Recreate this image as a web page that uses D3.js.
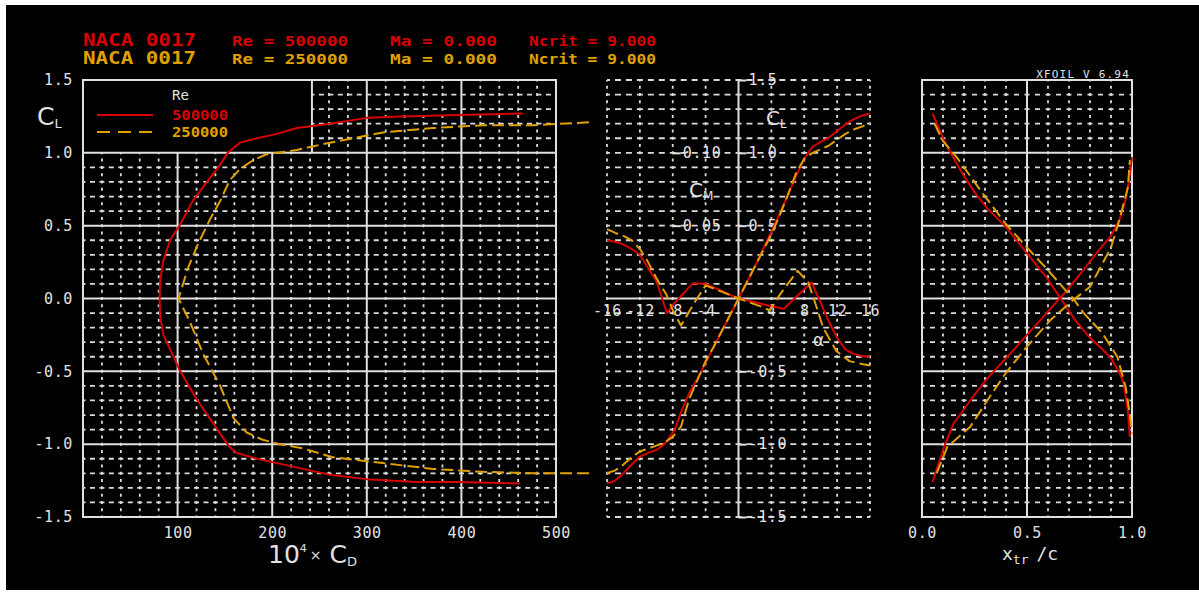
<!DOCTYPE html>
<html>
<head>
<meta charset="utf-8">
<script src="https://cdn.jsdelivr.net/npm/d3@7"></script>
<style>
  html, body { margin: 0; padding: 0; background: #fff; }
  svg { display: block; }
</style>
</head>
<body>
<div id="chart"></div>
<script>
// ---- values ----
const titleRows = [
  ['NACA 0017', 'Re = 500000', 'Ma = 0.000', 'Ncrit = 9.000'],
  ['NACA 0017', 'Re = 250000', 'Ma = 0.000', 'Ncrit = 9.000']
];
const reLabels = ['500000', '250000'];
const clTicks = [-1.5, -1.0, -0.5, 0, 0.5, 1.0, 1.5];
const cdTicks = [100, 200, 300, 400, 500];
const alphaTicks = [-16, -12, -8, -4, 4, 8, 12, 16];
const clAlphaTicks = [-1.5, -1.0, -0.5, 0.5, 1.0, 1.5];
const cmTicks = [0.05, 0.10];
const xtrTicks = [0, 0.5, 1];

// drag polar [1e4 * CD, CL]
const polar500 = [[462,-1.27],[398,-1.26],[353,-1.26],[300,-1.24],[261,-1.21],[240,-1.18],[205,-1.13],
  [184,-1.10],[162,-1.06],[155,-1.02],[141,-0.89],[120,-0.69],[102,-0.49],[85,-0.25],[81.5,-0.12],[81,0],
  [81.5,0.12],[85,0.26],[92,0.40],[102,0.50],[116,0.67],[131,0.80],[143,0.90],[153,1.00],[166,1.07],[184,1.10],
  [205,1.13],[226,1.17],[261,1.20],[300,1.24],[335,1.25],[398,1.26],[465,1.27]];
const polar250 = [[535,-1.20],[476,-1.20],[423,-1.19],[370,-1.17],[317,-1.13],[264,-1.09],[233,-1.03],
  [208,-1.00],[190,-0.97],[173,-0.92],[159,-0.82],[145,-0.60],[127,-0.38],[113,-0.16],[101,0],
  [111,0.21],[122,0.38],[134,0.54],[145,0.67],[155,0.81],[166,0.89],[180,0.95],[194,0.99],[205,1.00],
  [226,1.02],[254,1.06],[317,1.14],[370,1.17],[423,1.19],[476,1.19],[535,1.21]];

// [alpha, CL]
const clAlpha500 = [[-16,-1.27],[-15,-1.25],[-14,-1.20],[-13,-1.14],[-12,-1.085],[-11,-1.06],[-10,-1.04],
  [-9,-1.00],[-8,-0.92],[-7.6,-0.88],[-7,-0.78],[-6,-0.65],[-5,-0.55],[-4,-0.44],[-3,-0.33],[-2,-0.22],
  [-1,-0.11],[0,0],[1,0.11],[2,0.22],[3,0.34],[4,0.46],[5,0.58],[6,0.71],[7,0.84],[8,0.96],[9,1.04],
  [10,1.075],[11,1.105],[12,1.15],[13,1.195],[14,1.23],[15,1.255],[16,1.27]];
const clAlpha250 = [[-16,-1.20],[-15,-1.18],[-14,-1.14],[-13,-1.09],[-12,-1.05],[-11,-1.03],[-10,-1.01],
  [-9,-0.99],[-8,-0.95],[-7,-0.88],[-6,-0.69],[-5,-0.56],[-4,-0.43],[-3,-0.33],[-2,-0.22],[-1,-0.11],
  [0,0],[1,0.11],[2,0.22],[3,0.33],[4,0.44],[5,0.57],[6,0.71],[7,0.86],[8,0.96],[9,1.00],[10,1.025],
  [11,1.05],[12,1.09],[13,1.13],[14,1.16],[15,1.18],[16,1.20]];

// [alpha, CM]
const cmAlpha500 = [[-16,0.040],[-15,0.039],[-14,0.037],[-13,0.034],[-12,0.030],[-11,0.021],[-10,0.012],
  [-9,-0.005],[-8.7,-0.010],[-8,-0.0045],[-7,0.0017],[-6,0.0078],[-5.5,0.0105],[-4,0.0101],[-3,0.0076],
  [-2,0.005],[-1,0.0025],[0,0],[1,-0.0013],[2,-0.0026],[3,-0.004],[4,-0.0053],[5.5,-0.0071],[6,-0.0044],
  [7,0.001],[8,0.0064],[8.9,0.011],[10,-0.003],[11,-0.016],[12,-0.027],[13,-0.035],[14,-0.038],
  [15,-0.0395],[16,-0.040]];
const cmAlpha250 = [[-16,0.0476],[-15,0.045],[-14,0.043],[-13,0.040],[-12,0.034],[-11,0.025],[-10,0.014],
  [-8.8,0.003],[-8,-0.008],[-7,-0.0186],[-6,-0.009],[-5.2,-0.0014],[-4,0.009],[-3,0.0068],[-2,0.0045],
  [-1,0.0023],[0,0],[1,-0.002],[2,-0.004],[3,-0.006],[3.8,-0.0083],[5.1,0.0032],[6,0.010],[7.2,0.019],
  [8.5,0.011],[9.5,-0.006],[10.3,-0.020],[11.9,-0.036],[13.5,-0.043],[15,-0.045],[16,-0.046]];

// transition location [xtr/c, CL]
const xtrTop500 = [[0.05,1.27],[0.08,1.17],[0.10,1.10],[0.14,0.99],[0.20,0.84],[0.25,0.73],[0.31,0.62],
  [0.40,0.49],[0.50,0.31],[0.59,0.15],[0.66,0],[0.73,-0.15],[0.80,-0.27],[0.86,-0.35],[0.90,-0.41],
  [0.94,-0.51],[0.96,-0.58],[0.98,-0.77],[0.99,-0.95]];
const xtrBot500 = [[0.05,-1.26],[0.08,-1.13],[0.11,-1.00],[0.15,-0.86],[0.23,-0.70],[0.31,-0.55],
  [0.40,-0.41],[0.50,-0.25],[0.60,-0.09],[0.655,0],[0.69,0.055],[0.76,0.18],[0.83,0.31],[0.90,0.43],
  [0.94,0.54],[0.97,0.68],[0.99,0.85],[1.0,0.97]];
const xtrTop250 = [[0.06,1.20],[0.10,1.08],[0.165,0.97],[0.29,0.72],[0.40,0.51],[0.50,0.35],[0.59,0.21],
  [0.70,0.03],[0.72,0],[0.77,-0.10],[0.86,-0.24],[0.93,-0.40],[0.97,-0.61],[0.99,-0.80],[1.0,-0.93]];
const xtrBot250 = [[0.07,-1.20],[0.12,-1.02],[0.23,-0.88],[0.32,-0.68],[0.40,-0.51],[0.50,-0.33],
  [0.61,-0.15],[0.72,-0.01],[0.80,0.08],[0.90,0.35],[0.94,0.54],[0.98,0.76],[0.99,0.95]];

// ---- layout ----
const width = 1199, height = 592;
const plotTop = 80, plotBottom = 517;
const gridCol = '#dadada', solidCol = '#e0e0e0', labelCol = '#e2e2e2';
const red = '#d80000', orange = '#e0a000';
const mono = '"DejaVu Sans Mono", monospace';
const sans = '"DejaVu Sans", sans-serif';

const svg = d3.select('#chart').append('svg')
    .attr('width', width)
    .attr('height', height);

svg.append('rect').attr('x', 6).attr('y', 5).attr('width', width - 6).attr('height', 585).attr('fill', '#000');

// scales
const xCd = d3.scaleLinear().domain([0, 500]).range([83, 556]);
const yCl = d3.scaleLinear().domain([-1.5, 1.5]).range([plotBottom, plotTop]);
const xAl = d3.scaleLinear().domain([-16, 16]).range([607, 870]);
const yCm = d3.scaleLinear().domain([-0.15, 0.15]).range([plotBottom, plotTop]);
const xTr = d3.scaleLinear().domain([0, 1]).range([922, 1132]);

const grid = svg.append('g');

function gridLine(x1, y1, x2, y2, dash) {
    const l = grid.append('line').attr('x1', x1).attr('y1', y1).attr('x2', x2).attr('y2', y2);
    if (dash) {
        l.attr('stroke', gridCol).attr('stroke-width', 1.8)
            .attr('stroke-dasharray', `${dash[0]} ${dash[1] - dash[0]}`)
            .attr('stroke-dashoffset', dash[0] / 2);
    } else {
        l.attr('stroke', solidCol).attr('stroke-width', 2);
    }
}
const hLine = (y, x0, x1, dash) => gridLine(x0, y, x1, y, dash);
const vLine = (x, y0, y1, dash) => gridLine(x, y0, x, y1, dash);

const clSteps = d3.range(-14, 15).map(d => d / 10);
const isMajorCl = c => Math.abs(Math.round(c * 10) % 5) === 0;
const rowPeriod = (yCl(0) - yCl(0.1)) / 2;

// panel 1 grid, with legend box in the top left corner
const legendCd = 242;
d3.range(20, 500, 20).forEach(cd => {
    const yStart = cd < legendCd ? yCl(1.0) : plotTop;
    if (cd % 100 === 0) vLine(xCd(cd), yStart, plotBottom);
    else vLine(xCd(cd), yStart, plotBottom, [3, rowPeriod]);
});
clSteps.forEach(c => {
    const xStart = c > 1.0 ? xCd(legendCd) : xCd(0);
    if (isMajorCl(c)) hLine(yCl(c), xCd(0), xCd(500));
    else hLine(yCl(c), xStart, xCd(500), [5, (xCd(20) - xCd(0)) / 2]);
});
vLine(xCd(legendCd), plotTop, yCl(1.0));
grid.append('rect').attr('x', xCd(0)).attr('y', plotTop).attr('width', xCd(500) - xCd(0))
    .attr('height', plotBottom - plotTop)
    .attr('fill', 'none').attr('stroke', solidCol).attr('stroke-width', 2);

// panel 2 grid
d3.range(-16, 17, 4).forEach(a => {
    if (a === 0) vLine(xAl(a), plotTop, plotBottom);
    else vLine(xAl(a), plotTop, plotBottom, [3, rowPeriod]);
});
d3.range(-15, 16).map(d => d / 10).forEach(c => {
    if (c === 0) hLine(yCl(c), xAl(-16), xAl(16));
    else hLine(yCl(c), xAl(-16), xAl(16), [6, (xAl(-12) - xAl(-16)) / 3]);
});

// panel 3 grid
d3.range(1, 10).map(d => d / 10).forEach(x => {
    if (x === 0.5) vLine(xTr(x), plotTop, plotBottom);
    else vLine(xTr(x), plotTop, plotBottom, [3, rowPeriod]);
});
clSteps.forEach(c => {
    if (isMajorCl(c)) hLine(yCl(c), xTr(0), xTr(1));
    else hLine(yCl(c), xTr(0), xTr(1), [5, (xTr(0.1) - xTr(0)) / 2]);
});
grid.append('rect').attr('x', xTr(0)).attr('y', plotTop).attr('width', xTr(1) - xTr(0))
    .attr('height', plotBottom - plotTop)
    .attr('fill', 'none').attr('stroke', solidCol).attr('stroke-width', 2);

// ---- axes ----
function styleAxis(g) {
    g.select('.domain').remove();
    g.selectAll('.tick line').attr('stroke', solidCol).attr('stroke-width', 2);
    g.selectAll('.tick text').attr('fill', labelCol).attr('font-family', mono)
        .attr('font-size', 15).attr('letter-spacing', 0.6);
}
const fmt1 = d => d.toFixed(1);

svg.append('g').attr('transform', `translate(${xCd(0)},0)`)
    .call(d3.axisLeft(yCl).tickValues(clTicks).tickSize(0).tickPadding(10).tickFormat(fmt1))
    .call(styleAxis);
svg.append('g').attr('transform', `translate(0,${plotBottom})`)
    .call(d3.axisBottom(xCd).tickValues(cdTicks).tickSize(0).tickPadding(10).tickFormat(d => d))
    .call(styleAxis);
svg.append('g').attr('transform', `translate(0,${yCl(0)})`)
    .call(d3.axisBottom(xAl).tickValues(alphaTicks).tickSize(0).tickPadding(7).tickFormat(d => d))
    .call(styleAxis);
svg.append('g').attr('transform', `translate(${xAl(0)},0)`)
    .call(d3.axisRight(yCl).tickValues(clAlphaTicks).tickSize(8).tickPadding(2).tickFormat(fmt1))
    .call(styleAxis);
svg.append('g').attr('transform', `translate(${xAl(-8)},0)`)
    .call(d3.axisRight(yCm).tickValues(cmTicks).tickSize(8).tickPadding(2).tickFormat(d => d.toFixed(2)))
    .call(styleAxis);
svg.append('g').attr('transform', `translate(0,${plotBottom})`)
    .call(d3.axisBottom(xTr).tickValues(xtrTicks).tickSize(0).tickPadding(10).tickFormat(fmt1))
    .call(styleAxis);

// axis titles
function symbol(x, y, main, sub, size, subSize, subDy) {
    const t = svg.append('text').attr('x', x).attr('y', y).attr('fill', labelCol)
        .attr('font-family', sans).attr('font-size', size);
    t.append('tspan').text(main);
    t.append('tspan').attr('font-size', subSize).attr('dy', subDy).text(sub);
    return t;
}
symbol(37, 125, 'C', 'L', 25, 13, 3);
symbol(766, 125, 'C', 'L', 20, 12, 3);
symbol(689, 197, 'C', 'M', 20, 12, 3);
svg.append('text').attr('x', 813).attr('y', 346).attr('fill', labelCol)
    .attr('font-family', sans).attr('font-size', 17).text('α');

const cdTitle = svg.append('text').attr('x', 268).attr('y', 563).attr('fill', labelCol)
    .attr('font-family', sans).attr('font-size', 25);
cdTitle.append('tspan').text('10');
cdTitle.append('tspan').attr('font-size', 11).attr('dy', -11).text('4');
cdTitle.append('tspan').attr('font-size', 14).attr('dy', 8).attr('dx', 3).text('×');
cdTitle.append('tspan').attr('font-size', 25).attr('dy', 3).attr('dx', 8).text('C');
cdTitle.append('tspan').attr('font-size', 13).attr('dy', 3).text('D');

const xtrTitle = svg.append('text').attr('x', 1002).attr('y', 560).attr('fill', labelCol)
    .attr('font-family', mono).attr('font-size', 18);
xtrTitle.append('tspan').text('x');
xtrTitle.append('tspan').attr('font-size', 13).attr('dy', 4).text('tr');
xtrTitle.append('tspan').attr('dy', -4).attr('dx', 8).text('/c');

svg.append('text').attr('x', 1130).attr('y', 78).attr('text-anchor', 'end')
    .attr('fill', labelCol).attr('font-family', mono).attr('font-size', 11)
    .attr('letter-spacing', 1.2).text('XFOIL V 6.94');

// header rows
const headerX = [83, 232, 390, 529];
const headerW = [113, 116, 107, 127];
titleRows.forEach((row, i) => {
    row.forEach((s, j) => {
        svg.append('text').attr('x', headerX[j]).attr('y', 46 + i * 18)
            .attr('fill', i === 0 ? red : orange)
            .attr('font-family', mono).attr('font-weight', 'bold')
            .attr('font-size', j === 0 ? 17 : 14)
            .attr('textLength', headerW[j]).attr('lengthAdjust', 'spacingAndGlyphs')
            .text(s);
    });
});

// ---- curves ----
function curve(data, x, y, color, dashed) {
    const line = d3.line().x(d => x(d[0])).y(d => y(d[1]));
    svg.append('path').datum(data).attr('d', line)
        .attr('fill', 'none').attr('stroke', color).attr('stroke-width', 2)
        .attr('stroke-linejoin', 'round')
        .attr('stroke-dasharray', dashed ? '12 5' : null);
}
curve(polar500, xCd, yCl, red, false);
curve(clAlpha500, xAl, yCl, red, false);
curve(cmAlpha500, xAl, yCm, red, false);
curve(xtrTop500, xTr, yCl, red, false);
curve(xtrBot500, xTr, yCl, red, false);
curve(polar250, xCd, yCl, orange, true);
curve(clAlpha250, xAl, yCl, orange, true);
curve(cmAlpha250, xAl, yCm, orange, true);
curve(xtrTop250, xTr, yCl, orange, true);
curve(xtrBot250, xTr, yCl, orange, true);

// legend
svg.append('text').attr('x', 172).attr('y', 100).attr('fill', labelCol)
    .attr('font-family', mono).attr('font-size', 14).text('Re');
reLabels.forEach((r, i) => {
    const y = 115 + i * 17;
    const color = i === 0 ? red : orange;
    svg.append('line').attr('x1', 97).attr('x2', 153).attr('y1', y).attr('y2', y)
        .attr('stroke', color).attr('stroke-width', 2)
        .attr('stroke-dasharray', i === 0 ? null : '13 8');
    svg.append('text').attr('x', 172).attr('y', y + 5).attr('fill', color)
        .attr('font-family', mono).attr('font-weight', 'bold').attr('font-size', 14)
        .attr('textLength', 56).attr('lengthAdjust', 'spacingAndGlyphs').text(r);
});
</script>
</body>
</html>
